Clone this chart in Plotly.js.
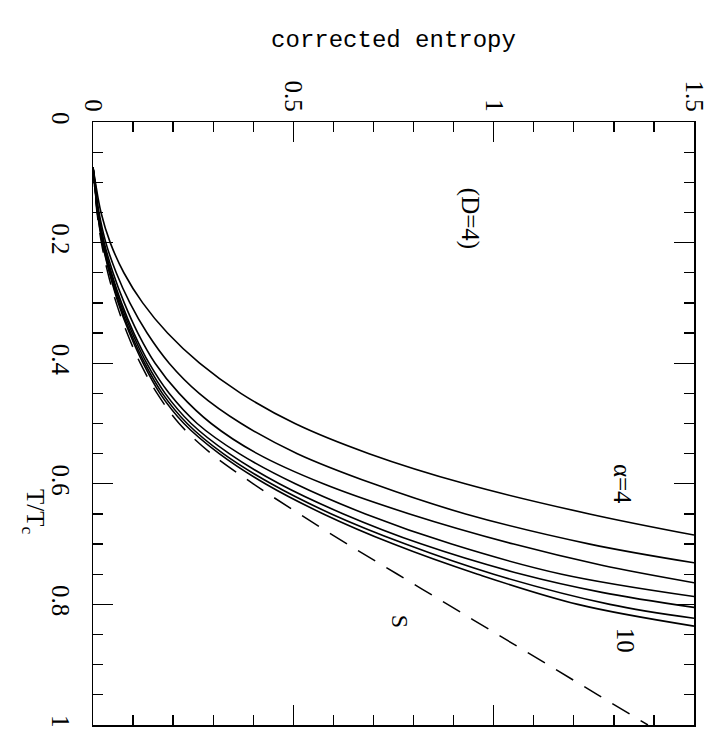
<!DOCTYPE html>
<html>
<head>
<meta charset="utf-8">
<script src="https://cdn.plot.ly/plotly-3.0.1.min.js"></script>
<style>html,body{margin:0;padding:0;background:#fff}#chart{width:713px;height:745px}</style>
</head>
<body>
<div id="chart"></div>
<script>
// Curves: T/Tc (vertical axis, increasing downward) vs corrected entropy (horizontal axis)
const T_a4  = [0.075,0.1,0.15,0.2,0.25,0.3,0.35,0.4,0.45,0.5,0.55,0.6,0.65,0.685];
const S_a4  = [0,0.006,0.02,0.043,0.077,0.124,0.186,0.266,0.369,0.504,0.689,0.929,1.239,1.5];
const T_a5  = [0.075,0.1,0.15,0.2,0.25,0.3,0.35,0.4,0.45,0.5,0.55,0.6,0.65,0.7,0.731];
const S_a5  = [0,0.005,0.015,0.032,0.058,0.092,0.135,0.19,0.265,0.37,0.51,0.70,0.93,1.24,1.5];
const T_a6  = [0.075,0.1,0.15,0.2,0.25,0.3,0.35,0.4,0.45,0.5,0.55,0.6,0.65,0.7,0.735,0.764];
const S_a6  = [0,0.004,0.013,0.028,0.05,0.078,0.112,0.155,0.215,0.295,0.41,0.575,0.79,1.05,1.27,1.5];
const T_a7  = [0.075,0.1,0.15,0.2,0.25,0.3,0.35,0.4,0.45,0.5,0.55,0.6,0.65,0.7,0.75,0.787];
const S_a7  = [0,0.004,0.012,0.026,0.046,0.071,0.102,0.14,0.19,0.26,0.365,0.505,0.68,0.895,1.17,1.5];
const T_a8  = [0.075,0.1,0.15,0.2,0.25,0.3,0.35,0.4,0.45,0.5,0.55,0.6,0.65,0.7,0.75,0.78,0.805];
const S_a8  = [0,0.004,0.012,0.025,0.044,0.068,0.098,0.134,0.18,0.245,0.34,0.465,0.625,0.82,1.07,1.27,1.5];
const T_a9  = [0.075,0.1,0.15,0.2,0.25,0.3,0.35,0.4,0.45,0.5,0.55,0.6,0.65,0.7,0.75,0.8,0.823];
const S_a9  = [0,0.004,0.011,0.024,0.042,0.065,0.094,0.129,0.173,0.235,0.325,0.445,0.595,0.78,1.0,1.29,1.5];
const T_a10 = [0.075,0.1,0.15,0.2,0.25,0.3,0.35,0.4,0.45,0.5,0.55,0.6,0.65,0.7,0.75,0.8,0.836];
const S_a10 = [0,0.004,0.011,0.023,0.041,0.063,0.091,0.125,0.167,0.227,0.315,0.43,0.575,0.75,0.96,1.21,1.5];
const T_S   = [0.075,0.1,0.15,0.2,0.25,0.3,0.35,0.4,0.45,0.5,0.55,0.6,0.65,0.7,0.75,0.8,0.85,0.9,0.95,1.0];
const S_S   = [0,0.003,0.01,0.021,0.037,0.058,0.085,0.118,0.16,0.215,0.295,0.40,0.515,0.635,0.76,0.885,1.01,1.135,1.26,1.385];

const entropyTicks = [0, 0.5, 1, 1.5];
const entropyTickText = ['0', '0.5', '1', '1.5'];
const tTicks = [0, 0.2, 0.4, 0.6, 0.8, 1];
const tTickText = ['0', '0.2', '0.4', '0.6', '0.8', '1'];

const solid = [[T_a4,S_a4],[T_a5,S_a5],[T_a6,S_a6],[T_a7,S_a7],[T_a8,S_a8],[T_a9,S_a9],[T_a10,S_a10]];
const names = ['α=4','α=5','α=6','α=7','α=8','α=9','α=10'];
const traces = solid.map((c,i)=>({
  x: c[1], y: c[0], type:'scatter', mode:'lines', name:names[i],
  line:{color:'#000', width:1.6, shape:'spline', smoothing:1}, hoverinfo:'skip'
}));
traces.push({x:S_S, y:T_S, type:'scatter', mode:'lines', name:'S',
  line:{color:'#000', width:1.5, dash:'20px,13px', shape:'spline', smoothing:1}, hoverinfo:'skip'});

const serif = 'Liberation Serif, DejaVu Serif, serif';
const layout = {
  width:713, height:745,
  margin:{l:93, r:19, t:122, b:20},
  paper_bgcolor:'#fff', plot_bgcolor:'#fff',
  showlegend:false,
  font:{family:serif, color:'#000', size:24},
  xaxis:{
    range:[0,1.5], side:'top', showgrid:false, zeroline:false,
    showline:true, linecolor:'#000', linewidth:1.5, mirror:'allticks',
    ticks:'inside', ticklen:20, tickwidth:1.3, tickcolor:'#000',
    tickvals:entropyTicks, ticktext:entropyTickText, tickangle:90,
    tickfont:{family:serif, size:25},
    minor:{dtick:0.1, ticks:'inside', ticklen:10, tickwidth:1.3, tickcolor:'#000', showgrid:false},
    title:{text:'corrected entropy', font:{family:'Liberation Mono, DejaVu Sans Mono, monospace', size:24}, standoff:26}
  },
  yaxis:{
    range:[1,0], showgrid:false, zeroline:false,
    showline:true, linecolor:'#000', linewidth:1.5, mirror:'allticks',
    ticks:'inside', ticklen:20, tickwidth:1.3, tickcolor:'#000',
    tickvals:tTicks, ticktext:tTickText, tickangle:90,
    tickfont:{family:serif, size:25}, ticklabelstandoff:10,
    minor:{dtick:0.05, ticks:'inside', ticklen:10, tickwidth:1.3, tickcolor:'#000', showgrid:false},
    title:{text:''}
  },
  annotations:[
    {x:0.94, y:0.16, xref:'x', yref:'y', text:'(D=4)', showarrow:false, textangle:90, font:{family:serif, size:25}},
    {x:1.32, y:0.6, xref:'x', yref:'y', text:'α=4', showarrow:false, textangle:90, font:{family:serif, size:25}},
    {x:1.33, y:0.86, xref:'x', yref:'y', text:'10', showarrow:false, textangle:90, font:{family:serif, size:25}},
    {x:0.765, y:0.828, xref:'x', yref:'y', text:'S', showarrow:false, textangle:90, font:{family:serif, size:24}},
    {x:0, y:0, xref:'paper', yref:'paper', xanchor:'center', yanchor:'middle', text:'T/T<sub>c</sub>', showarrow:false, textangle:90, font:{family:serif, size:25}}
  ]
};
// place the rotated T/Tc title at its pixel position (x≈34, y≈512)
layout.annotations[4].x = (34-93)/(713-93-19);
layout.annotations[4].y = 1-(512-122)/(745-122-20);

Plotly.newPlot('chart', traces, layout, {staticPlot:true});
</script>
</body>
</html>
